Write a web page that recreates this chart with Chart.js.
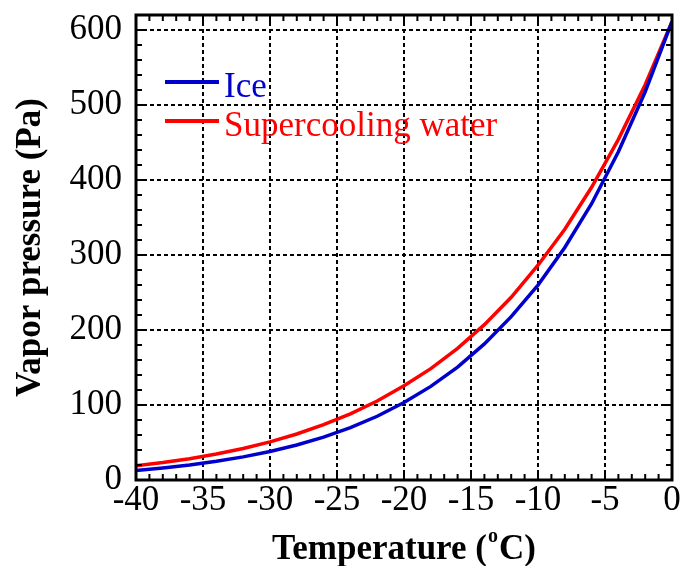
<!DOCTYPE html>
<html>
<head>
<meta charset="utf-8">
<script src="https://cdn.jsdelivr.net/npm/chart.js@4"></script>
<style>
  html, body { margin: 0; padding: 0; background: #fff; }
  #wrap { width: 683px; height: 566px; }
</style>
</head>
<body>
<div id="wrap"><canvas id="vaporChart" width="683" height="566"></canvas></div>
<script>
// temperatures (oC) and vapor pressures (Pa)
const temps = [-40, -38, -36, -34, -32, -30, -28, -26, -24, -22, -20, -18, -16, -14, -12, -10, -8, -6, -4, -2, 0];
const iceValues = [12.8, 16.1, 20.0, 24.9, 30.8, 38.0, 46.6, 57.1, 69.8, 85.0, 103.3, 124.8, 150.6, 181.5, 217.8, 259.9, 310.1, 368.4, 437.7, 517.7, 611.2];
const waterValues = [19.0, 23.2, 28.4, 34.6, 42.0, 50.9, 61.3, 73.7, 88.3, 105.3, 125.6, 148.5, 175.6, 207.1, 243.6, 286.4, 334.4, 390.3, 454.2, 527.0, 611.2];
const seriesNames = ['Ice', 'Supercooling water'];
const seriesColors = ['#0000cc', '#ff0000'];
const xTicks = [-40, -35, -30, -25, -20, -15, -10, -5, 0];
const yTicks = [0, 100, 200, 300, 400, 500, 600];

Chart.defaults.font.family = '"Liberation Serif", "Times New Roman", serif';
Chart.defaults.color = '#000';

const toPoints = vals => temps.map((t, i) => ({ x: t, y: vals[i] }));

// frame, inward ticks, legend and x title
const framePlugin = {
    id: 'frame',
    afterDraw(chart) {
        const ctx = chart.ctx;
        const a = chart.chartArea;
        const xs = chart.scales.x;
        const ys = chart.scales.y;
        ctx.save();
        ctx.strokeStyle = '#000';
        ctx.lineWidth = 2;
        ctx.beginPath();
        for (let t = -40; t <= 0; t++) {
            const px = xs.getPixelForValue(t);
            const len = t % 5 === 0 ? 10 : 6;
            ctx.moveTo(px, a.bottom); ctx.lineTo(px, a.bottom - len);
            ctx.moveTo(px, a.top); ctx.lineTo(px, a.top + len);
        }
        for (let v = 0; v <= 620; v += 20) {
            const py = ys.getPixelForValue(v);
            const len = v % 100 === 0 ? 10 : 6;
            ctx.moveTo(a.left, py); ctx.lineTo(a.left + len, py);
            ctx.moveTo(a.right, py); ctx.lineTo(a.right - len, py);
        }
        ctx.stroke();
        ctx.lineWidth = 3;
        ctx.strokeRect(a.left, a.top, a.right - a.left, a.bottom - a.top);

        // legend
        const rows = [82, 121];
        chart.data.datasets.forEach((ds, i) => {
            ctx.strokeStyle = ds.borderColor;
            ctx.lineWidth = 4;
            ctx.beginPath();
            ctx.moveTo(165, rows[i]);
            ctx.lineTo(219, rows[i]);
            ctx.stroke();
            ctx.fillStyle = ds.borderColor;
            ctx.font = '35px "Liberation Serif"';
            ctx.textBaseline = 'alphabetic';
            ctx.textAlign = 'left';
            ctx.fillText(ds.label, 224, rows[i] + 15);
        });

        // x title with superscript o
        ctx.fillStyle = '#000';
        const big = 'bold 35px "Liberation Serif"';
        const small = 'bold 20px "Liberation Serif"';
        ctx.font = big;
        const w1 = ctx.measureText('Temperature (').width;
        const w3 = ctx.measureText('C)').width;
        ctx.font = small;
        const w2 = ctx.measureText('o').width + 2;
        let x0 = (a.left + a.right) / 2 - (w1 + w2 + w3) / 2;
        const base = 559;
        ctx.font = big;
        ctx.fillText('Temperature (', x0, base);
        ctx.font = small;
        ctx.fillText('o', x0 + w1 + 1, base - 17);
        ctx.font = big;
        ctx.fillText('C)', x0 + w1 + w2, base);
        ctx.restore();
    }
};

const config = {
    type: 'line',
    data: {
        datasets: [{
            label: seriesNames[0],
            data: toPoints(iceValues),
            borderColor: seriesColors[0],
            borderWidth: 3.5,
            pointRadius: 0,
            tension: 0
        }, {
            label: seriesNames[1],
            data: toPoints(waterValues),
            borderColor: seriesColors[1],
            borderWidth: 3.5,
            pointRadius: 0,
            tension: 0
        }]
    },
    options: {
        responsive: false,
        animation: false,
        layout: { padding: { top: 15, right: 11, left: 0, bottom: 0 } },
        plugins: {
            legend: { display: false },
            tooltip: { enabled: false }
        },
        scales: {
            x: {
                type: 'linear',
                min: -40,
                max: 0,
                afterBuildTicks: s => { s.ticks = xTicks.map(v => ({ value: v })); },
                afterFit: s => { s.height = 86; s.paddingLeft = 0; s.paddingRight = 0; },
                ticks: { font: { size: 35 }, padding: 0, maxRotation: 0 },
                grid: { color: '#000', lineWidth: 2, drawTicks: false },
                border: { display: false, dash: [4, 3] }
            },
            y: {
                min: 0,
                max: 620,
                afterBuildTicks: s => { s.ticks = yTicks.map(v => ({ value: v })); },
                afterFit: s => { s.width = 136; s.paddingTop = 0; s.paddingBottom = 0; },
                ticks: { font: { size: 35 }, padding: 14 },
                grid: { color: '#000', lineWidth: 2, drawTicks: false },
                border: { display: false, dash: [4, 3] },
                title: {
                    display: true,
                    text: 'Vapor pressure (Pa)',
                    font: { size: 35, weight: 'bold' },
                    padding: { top: 10, bottom: 0 }
                }
            }
        }
    },
    plugins: [framePlugin]
};

const ctx = document.getElementById('vaporChart').getContext('2d');
const vaporChart = new Chart(ctx, config);
</script>
</body>
</html>
